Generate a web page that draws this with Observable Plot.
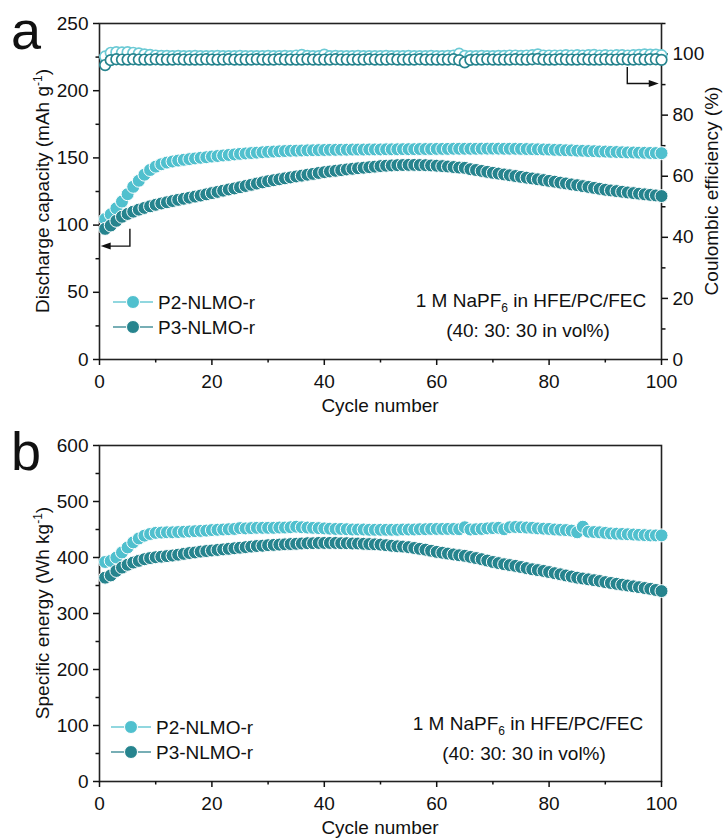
<!DOCTYPE html>
<html><head><meta charset="utf-8">
<script src="https://cdn.jsdelivr.net/npm/d3@7"></script>
<script src="https://cdn.jsdelivr.net/npm/@observablehq/plot@0.6"></script>
<style>
body{margin:0;background:#fff;}
#wrap{width:725px;}
#wrap svg{display:block;}
</style></head><body><div id="wrap"></div>
<script>
const cycles = d3.range(1, 101);
const seriesNames = ["P2-NLMO-r", "P3-NLMO-r"];
const capTicks = [0, 50, 100, 150, 200, 250];
const capMinor = [25, 75, 125, 175, 225];
const ceTicks = [0, 20, 40, 60, 80, 100];
const ceMinor = [10, 30, 50, 70, 90, 110];
const enTicks = [0, 100, 200, 300, 400, 500, 600];
const enMinor = [50, 150, 250, 350, 450, 550];
const xTicks = [0, 20, 40, 60, 80, 100];
const xMinor = [10, 30, 50, 70, 90];

const cap2 = [104.5,108,112.5,117.5,123,128.5,133,137.5,141,143.5,
145.3,146.5,147.3,148,148.6,149.1,149.6,150.1,150.5,151,
151.4,151.8,152.2,152.6,153,153.3,153.6,153.9,154.2,154.5,
154.7,154.9,155.1,155.3,155.4,155.5,155.6,155.7,155.8,155.9,
156,156,156.1,156.1,156.2,156.2,156.2,156.3,156.3,156.3,
156.4,156.4,156.4,156.5,156.5,156.5,156.6,156.6,156.6,156.7,
156.7,156.7,156.8,156.8,156.8,156.8,156.8,156.9,156.9,156.9,
156.9,156.8,156.8,156.8,156.7,156.6,156.5,156.4,156.3,156.2,
156,155.9,155.7,155.6,155.4,155.3,155.1,155,154.8,154.7,
154.5,154.4,154.2,154.1,154,153.9,153.8,153.7,153.6,153.5];
const cap3 = [97.2,99.7,103.2,106.2,108.3,110,111.5,112.8,114,115.1,
116.1,117,117.9,118.8,119.6,120.4,121.2,122,122.9,123.8,
124.7,125.6,126.5,127.3,128.2,129.1,130,130.9,131.8,132.7,
133.4,134.1,134.8,135.5,136.2,136.8,137.5,138.1,138.8,139.4,
139.9,140.4,140.9,141.4,141.9,142.3,142.7,143.1,143.5,143.9,
144.2,144.4,144.6,144.7,144.8,144.8,144.7,144.6,144.4,144.2,
143.9,143.6,143.2,142.8,142.6,141.6,141,140.3,139.6,138.9,
138.3,137.7,137.1,136.5,135.9,135.3,134.7,134.1,133.5,132.9,
132.3,131.6,131,130.3,129.7,129,128.4,127.7,127,126.3,
125.8,125.3,124.8,124.3,123.8,123.4,122.9,122.5,122.1,121.6];
const ce2 = [99.2,100.4,100.6,100.5,100.6,100.4,100.2,99.9,99.7,99.5,
99.4,99.4,99.3,99.4,99.3,99.3,99.4,99.3,99.3,99.3,
99.4,99.3,99.3,99.3,99.4,99.3,99.3,99.3,99.3,99.4,
99.3,99.3,99.4,99.3,99.5,99.7,99.4,99.3,99.3,99.8,
99.3,99.4,99.3,99.3,99.3,99.4,99.3,99.3,99.3,99.3,
99.4,99.3,99.3,99.3,99.4,99.3,99.3,99.3,99.4,99.3,
99.3,99.4,99.5,100.1,99.4,99.3,99.3,99.4,99.3,99.3,
99.4,99.4,99.5,99.5,99.4,99.5,99.6,99.9,99.5,99.5,
99.5,99.5,99.6,99.5,99.6,99.5,99.6,99.7,99.5,99.6,
99.5,99.6,99.6,99.5,99.6,99.7,99.9,99.8,99.8,99.6];
const ce3 = [96.4,98.0,98.3,98.2,98.2,98.3,98.2,98.2,98.2,98.3,
98.2,98.2,98.2,98.3,98.2,98.2,98.2,98.2,98.3,98.2,
98.2,98.2,98.3,98.2,98.2,98.2,98.2,98.3,98.2,98.2,
98.2,98.3,98.2,98.2,98.2,98.2,98.3,98.2,98.2,98.2,
98.2,98.3,98.2,98.2,98.2,98.2,98.2,98.3,98.2,98.2,
98.2,98.3,98.2,98.2,98.2,98.2,98.3,98.2,98.2,98.2,
98.2,98.2,98.3,98.0,97.3,98.1,98.2,98.2,98.3,98.2,
98.2,98.2,98.2,98.3,98.2,98.2,98.3,98.4,98.2,98.2,
98.2,98.3,98.2,98.2,98.2,98.3,98.2,98.2,98.2,98.3,
98.2,98.2,98.3,98.2,98.2,98.3,98.2,98.3,98.3,98.1];
const en2 = [392,394,400,409,418,427,434,439,442,444,
444.5,445,445,445.5,446,446.5,447,447.5,448,449,
449.5,450,450.5,451,452.5,452,452.5,453,453,453,
453,453.5,453.5,454,455,454,453.5,453,452.5,452,
451.5,451,451,450.5,450,450,450,449.5,449.5,449.5,
449.5,449.5,449.5,450,450,450,450.5,450.5,451,451,
451,451,451,450.5,454,450,450.5,451,452,452.5,
453,450.5,454,454.5,454,453.5,453,452,451.5,451,
450,449.5,449,448,445,455,446,445.5,445,444,
443,442.5,442,441.5,441,440.5,440,439.5,439.5,439.5];
const en3 = [364,368,376,382,387,391,394,397,399,400.5,
401.5,402.5,403.5,405,406.5,408,409,410.5,411.5,412.5,
413.5,414.5,415.5,416.5,417.5,418.5,419.5,420.5,421,422,
422.5,423,423.5,424,424.5,425,425.5,425.5,426,426,
426,426,425.5,425.5,425,425,424.5,424,423.5,423,
422,421,420,419.5,418.5,417,415.5,414,412,410,
408.5,407,405.5,404,403,401,399,397,394.5,392,
390,388,386.5,385,383,381,379,377.5,376,374,
372,370,368,366,364,362.5,361,359.5,358,356,
354.5,353,351.5,350,348.5,347,345.5,344,342,340];

const C2 = "#50C0CE", C3 = "#26848E";
const L2 = "#6CCAD5", L3 = "#4A939C";
const FONT = '"Liberation Sans", Arial, Helvetica, sans-serif';
const INK = "#111";
const W = 725, mL = 99, mR = 64;
const k = 250 / 110; // CE (%) -> left-axis units

const rows = ys => cycles.map((c, i) => ({cycle: c, v: ys[i]}));

function axes(yTicks, yMinor, right) {
  const m = [
    Plot.frame({stroke: "#222", strokeWidth: 1.6}),
    Plot.axisX({ticks: xTicks, tickSize: 6, tickPadding: 9, strokeWidth: 1.5, fontSize: 19, label: null, tickFormat: d => String(d)}),
    Plot.axisX({ticks: xMinor, tickSize: 3.5, strokeWidth: 1.5, label: null, tickFormat: () => ""}),
    Plot.axisY({ticks: yTicks, anchor: "left", tickSize: 6, tickPadding: 5, strokeWidth: 1.5, fontSize: 19, label: null, tickFormat: d => String(d)}),
    Plot.axisY({ticks: yMinor, anchor: "left", tickSize: 3.5, strokeWidth: 1.5, label: null, tickFormat: () => ""})
  ];
  if (right) {
    m.push(Plot.axisY({ticks: ceTicks.map(v => v * k), anchor: "right", tickSize: 6, tickPadding: 5, strokeWidth: 1.5, fontSize: 19, label: null, tickFormat: d => String(Math.round(d / k))}));
    m.push(Plot.axisY({ticks: ceMinor.map(v => v * k), anchor: "right", tickSize: 3.5, strokeWidth: 1.5, label: null, tickFormat: () => ""}));
  }
  return m;
}

const topPlot = Plot.plot({
  width: W, height: 420,
  marginTop: 23, marginBottom: 61, marginLeft: mL, marginRight: mR,
  style: {fontFamily: FONT, fontSize: "19px", color: INK, background: "#fff", overflow: "visible"},
  x: {domain: [0, 100]},
  y: {domain: [0, 250]},
  marks: [
    ...axes(capTicks, capMinor, true),
    Plot.dot(rows(ce2), {x: "cycle", y: d => d.v * k, r: 5.3, fill: "white", stroke: L2, strokeWidth: 1.7}),
    Plot.dot(rows(ce3), {x: "cycle", y: d => d.v * k, r: 5.3, fill: "white", stroke: C3, strokeWidth: 1.7}),
    Plot.dot(rows(cap2), {x: "cycle", y: "v", r: 6.5, fill: C2, stroke: "white", strokeWidth: 1}),
    Plot.dot(rows(cap3), {x: "cycle", y: "v", r: 6.5, fill: C3, stroke: "white", strokeWidth: 1})
  ]
});

const botPlot = Plot.plot({
  width: W, height: 419,
  marginTop: 25, marginBottom: 58, marginLeft: mL, marginRight: mR,
  style: {fontFamily: FONT, fontSize: "19px", color: INK, background: "#fff", overflow: "visible"},
  x: {domain: [0, 100]},
  y: {domain: [0, 600]},
  marks: [
    ...axes(enTicks, enMinor, false),
    Plot.dot(rows(en2), {x: "cycle", y: "v", r: 6.5, fill: C2, stroke: "white", strokeWidth: 1}),
    Plot.dot(rows(en3), {x: "cycle", y: "v", r: 6.5, fill: C3, stroke: "white", strokeWidth: 1})
  ]
});

const wrap = document.getElementById("wrap");
wrap.appendChild(topPlot);
wrap.appendChild(botPlot);

function txt(svg, x, y, parts, o = {}) {
  const t = svg.append("text").attr("x", x).attr("y", y)
    .attr("font-family", FONT).attr("font-size", o.size || 19).attr("fill", INK)
    .attr("text-anchor", o.anchor || "start");
  if (o.rotate) t.attr("transform", `rotate(${o.rotate},${x},${y})`);
  let shift = 0;
  parts.forEach(p => {
    if (typeof p === "string") {
      t.append("tspan").attr("dy", -shift).text(p); shift = 0;
    } else if (p.sup) {
      t.append("tspan").attr("dy", -7).attr("font-size", 12).text(p.sup); shift = -7;
    } else if (p.sub) {
      t.append("tspan").attr("dy", 5).attr("font-size", 12).text(p.sub); shift = 5;
    }
  });
  return t;
}

function decorate(plot, o) {
  const svg = d3.select(plot);
  const H = +plot.getAttribute("height");
  const x0 = mL, x1 = W - mR, yb = H - o.mb, yt = o.mt;
  // panel letter
  txt(svg, 11, o.letterY, [o.letter], {size: 54});
  // axis titles
  txt(svg, (x0 + x1) / 2, yb + 53, ["Cycle number"], {anchor: "middle"});
  txt(svg, 49, (yt + yb) / 2, o.ytitle, {anchor: "middle", rotate: -90});
  if (o.rtitle) txt(svg, 718, (yt + yb) / 2, o.rtitle, {anchor: "middle", rotate: -90});
  // legend
  seriesNames.forEach((name, i) => {
    const cy = yb - o.legGap + i * 25;
    const cx = x0 + o.legDx;
    svg.append("line").attr("x1", cx - 20).attr("x2", cx + 20).attr("y1", cy).attr("y2", cy)
      .attr("stroke", i ? L3 : L2).attr("stroke-width", 1.5);
    svg.append("circle").attr("cx", cx).attr("cy", cy).attr("r", 6.5)
      .attr("fill", i ? C3 : C2).attr("stroke", "white").attr("stroke-width", 1);
    txt(svg, cx + 25, cy + 7, [name]);
  });
  // electrolyte note
  txt(svg, o.noteX, yb - o.noteGap, ["1 M NaPF", {sub: "6"}, " in HFE/PC/FEC"], {anchor: "middle"});
  txt(svg, o.noteX2, yb - o.noteGap + 30, ["(40: 30: 30 in vol%)"], {anchor: "middle"});
}

decorate(topPlot, {mt: 23, mb: 61, letter: "a", letterY: 49, legGap: 57, legDx: 34, noteX: 531, noteX2: 528, noteGap: 52,
  ytitle: ["Discharge capacity (mAh g", {sup: "-1"}, ")"], rtitle: ["Coulombic efficiency (%)"]});
decorate(botPlot, {mt: 25, mb: 58, letter: "b", letterY: 50, legGap: 54, legDx: 32, noteX: 528, noteX2: 524, noteGap: 51,
  ytitle: ["Specific energy (Wh kg", {sup: "-1"}, ")"]});

// axis-indicator arrows in the top panel (positioned through the plot's scales)
const arrowSpecs = [
  {at: 5.5, from: 97, to: 84, tip: 0.3, scale: 1},   // points to left axis (capacity)
  {at: 94, from: 95.6, to: 90.2, tip: 99.6, scale: k} // points to right axis (CE)
];
{
  const svg = d3.select(topPlot);
  const sx = topPlot.scale("x"), sy = topPlot.scale("y");
  arrowSpecs.forEach(a => {
    const X = sx.apply(a.at), Y0 = sy.apply(a.from * a.scale), Y1 = sy.apply(a.to * a.scale), T = sx.apply(a.tip);
    const dir = Math.sign(T - X);
    svg.append("path").attr("d", `M${X},${Y0}V${Y1}H${T - dir * 8}`)
      .attr("fill", "none").attr("stroke", "#111").attr("stroke-width", 1.4);
    svg.append("path").attr("d", `M${T},${Y1}L${T - dir * 10},${Y1 - 3.5}L${T - dir * 10},${Y1 + 3.5}Z`).attr("fill", "#111");
  });
}
</script></body></html>
